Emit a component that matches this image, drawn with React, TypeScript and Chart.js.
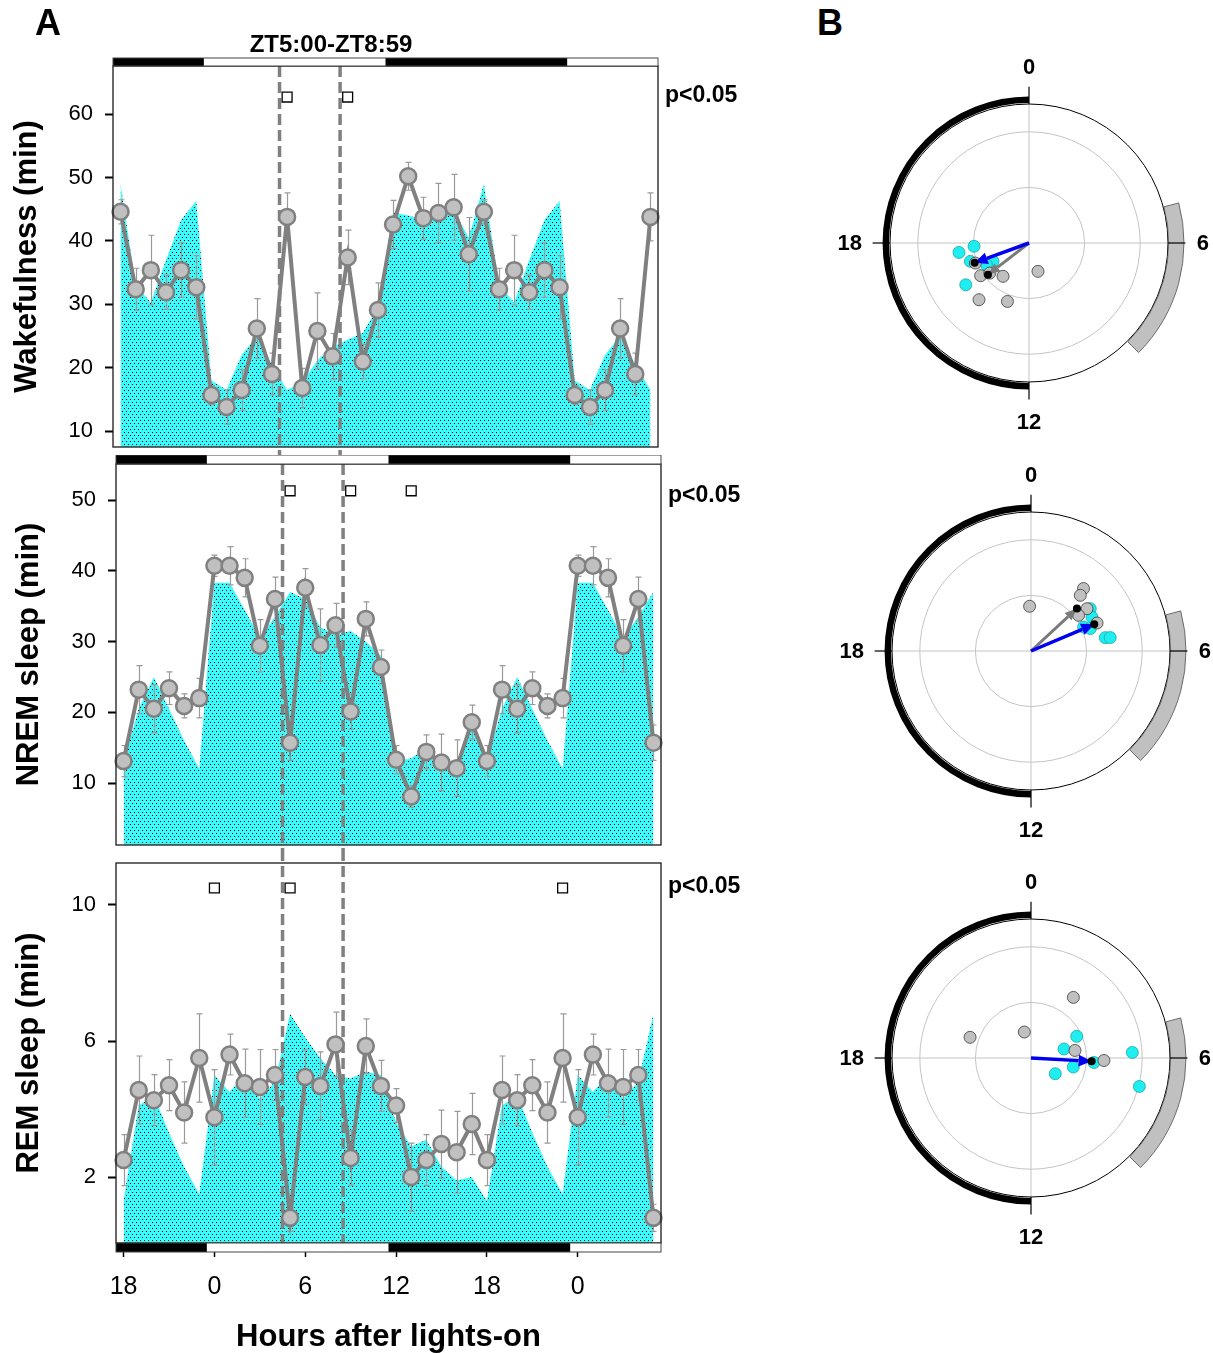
import React, { useEffect, useRef } from 'react';
import { Chart, registerables } from 'chart.js';

Chart.register(...registerables);

const FONT = "'Liberation Sans', Arial, Helvetica, sans-serif";
Chart.defaults.font.family = FONT;
Chart.defaults.color = '#000';

// ---------------- Panel A : shared axis data ----------------
// x positions (hours after lights-on) of the double-plotted hourly bins:
// ZT18..ZT23, ZT0..ZT23, ZT0..ZT5
const PLOT_X = [-6, -5, -4, -3, -2, -1, 0, 1, 2, 3, 4, 5, 6, 7, 8, 9, 10, 11, 12, 13, 14, 15, 16, 17, 18, 19, 20, 21, 22, 23, 24, 25, 26, 27, 28, 29];
const X_RANGE = [-6.5, 29.5];
const X_TICKS = [-6, 0, 6, 12, 18, 24];
const X_TICK_LABELS = ['18', '0', '6', '12', '18', '0'];
const DARK_PHASES = [[-6.5, -0.5], [11.5, 23.5]];
const WINDOW_EDGES = [4.5, 8.5];
const WINDOW_LABEL = 'ZT5:00-ZT8:59';
const P_LABEL = 'p<0.05';

// values per ZT hour 0..23
const WAKE_MEAN = [15.7, 13.8, 16.5, 26.2, 19.0, 43.8, 16.8, 25.8, 21.8, 37.4, 21.0, 29.1, 42.6, 50.2, 43.6, 44.4, 45.3, 37.9, 44.6, 32.4, 35.4, 31.9, 35.4, 32.7];
const WAKE_SEM = [1.5, 2.7, 3.2, 4.7, 3.3, 3.8, 3.1, 6.0, 3.6, 4.3, 2.7, 4.3, 3.8, 2.2, 3.3, 4.7, 5.2, 5.8, 1.9, 3.3, 5.5, 2.7, 4.3, 5.0];
const WAKE_CTRL = [18.0, 16.5, 22.0, 25.0, 20.5, 16.5, 17.7, 21.2, 23.3, 24.4, 25.5, 29.6, 44.5, 44.0, 43.3, 44.0, 44.9, 40.5, 49.0, 33.0, 30.3, 37.0, 43.3, 46.3];
const WAKE_SIG_HOURS = [5, 9];
const WAKE_SIG_LEVEL = 62.7;
const WAKE_Y_TICKS = [10, 20, 30, 40, 50, 60];

const NREM_MEAN = [40.7, 40.7, 39.0, 29.4, 36.0, 15.7, 37.6, 29.5, 32.3, 20.1, 33.2, 26.4, 13.3, 8.1, 14.4, 12.9, 12.1, 18.6, 13.1, 23.2, 20.5, 23.4, 20.9, 22.0];
const NREM_SEM = [1.5, 2.7, 2.7, 3.7, 3.1, 2.5, 2.7, 5.1, 3.1, 2.5, 2.4, 2.4, 2.0, 1.5, 2.4, 4.0, 4.0, 2.4, 2.2, 3.4, 3.4, 2.3, 1.7, 2.8];
const NREM_CTRL = [38.3, 38.3, 34.5, 30.5, 33.5, 37.0, 36.0, 32.0, 31.0, 31.5, 30.0, 28.0, 13.0, 13.5, 15.0, 13.0, 12.0, 19.0, 13.0, 20.5, 25.0, 20.5, 16.0, 12.0];
const NREM_SIG_HOURS = [5, 9, 13];
const NREM_SIG_LEVEL = 51.3;
const NREM_Y_TICKS = [10, 20, 30, 40, 50];

const REM_MEAN = [3.76, 5.6, 4.76, 4.65, 5.0, 0.8, 4.94, 4.68, 5.9, 2.56, 5.85, 4.68, 4.1, 2.0, 2.5, 2.97, 2.73, 3.56, 2.5, 4.56, 4.26, 4.7, 3.9, 5.5];
const REM_SEM = [1.4, 0.6, 1.0, 1.1, 0.75, 0.4, 0.8, 1.0, 0.95, 0.8, 0.8, 0.75, 0.5, 1.0, 0.75, 1.0, 1.2, 0.9, 0.75, 1.0, 0.75, 0.75, 0.9, 1.3];
const REM_CTRL = [5.0, 4.5, 5.0, 4.3, 4.8, 6.8, 6.1, 5.5, 5.0, 4.9, 5.1, 5.0, 3.6, 2.9, 3.1, 2.3, 1.9, 2.0, 1.3, 4.1, 4.4, 3.3, 2.3, 1.5];
const REM_SIG_HOURS = [0, 5, 23];
const REM_SIG_LEVEL = 10.5;
const REM_Y_TICKS = [2, 6, 10];

// ---------------- Panel B : polar (phase in ZT hours, normalised amplitude) ----------------
const WAKE_B_CYAN_PHASE = [17.49, 17.77, 16.84, 15.77, 16.19, 16.2];
const WAKE_B_CYAN_AMP = [0.508, 0.396, 0.442, 0.545, 0.291, 0.344];
const WAKE_B_GREY_PHASE = [16.63, 15.73, 15.5, 14.53, 10.83, 14.76, 13.35];
const WAKE_B_GREY_AMP = [0.412, 0.42, 0.356, 0.304, 0.214, 0.544, 0.448];
const WAKE_B_BLUE_VECTOR = [16.67, 0.416];
const WAKE_B_GREY_VECTOR = [15.49, 0.373];

const NREM_B_CYAN_PHASE = [3.63, 4.06, 4.37, 4.62, 5.32, 5.36];
const NREM_B_CYAN_AMP = [0.524, 0.502, 0.416, 0.456, 0.543, 0.578];
const NREM_B_GREY_PHASE = [23.88, 2.67, 2.77, 3.53, 3.54, 4.47];
const NREM_B_GREY_AMP = [0.322, 0.587, 0.535, 0.505, 0.428, 0.516];
const NREM_B_BLUE_VECTOR = [4.47, 0.494];
const NREM_B_GREY_VECTOR = [3.15, 0.45];

const REM_B_CYAN_PHASE = [4.31, 4.98, 6.8, 8.19, 6.27, 5.79, 6.98];
const REM_B_CYAN_AMP = [0.364, 0.246, 0.311, 0.208, 0.454, 0.73, 0.806];
const REM_B_GREY_PHASE = [2.33, 23.04, 19.25, 5.35, 6.13];
const REM_B_GREY_AMP = [0.532, 0.193, 0.463, 0.321, 0.525];
const REM_B_BLUE_VECTOR = [6.21, 0.437];
const REM_B_GREY_VECTOR = null;

const POLAR_RINGS = [0.4, 0.8];
const POLAR_LABELS = [[0, '0', 1.265], [6, '6', 1.25], [12, '12', 1.29], [18, '18', 1.29]];
const STIM_WINDOW = [5, 9];
const DARK_WINDOW = [12, 24];

// ---------------- helpers ----------------
const wrapHour = (x: number) => ((x % 24) + 24) % 24;

function makePattern(ctx: CanvasRenderingContext2D) {
  const tile = document.createElement('canvas');
  tile.width = 4;
  tile.height = 6;
  const t = tile.getContext('2d')!;
  t.fillStyle = '#3ffafa';
  t.fillRect(0, 0, 4, 6);
  t.fillStyle = '#000';
  t.fillRect(0, 0, 1, 1);
  t.fillRect(2, 3, 1, 1);
  return ctx.createPattern(tile, 'repeat')!;
}

const zeroPadding = (s: any) => {
  s.paddingTop = 0;
  s.paddingBottom = 0;
  s.paddingLeft = 0;
  s.paddingRight = 0;
};

type PanelCfg = {
  top: number; height: number; yWidth: number;
  padding: { left: number; top: number; right: number; bottom: number };
  mean: number[]; sem: number[]; ctrl: number[]; sig: number[]; sigLevel: number;
  yMin: number; yMax: number; yTicks: number[]; yTitle: string; titlePad: number;
  bar: 'top' | 'bottom'; barH: number; pOffset: number; xAxis: boolean;
  dashFromCanvas: boolean; dashToCanvas: boolean; windowLabel: boolean;
};

const WAKE_CFG: PanelCfg = {
  top: 30, height: 425, yWidth: 113, padding: { left: 0, top: 36, right: 112, bottom: 8 },
  mean: WAKE_MEAN, sem: WAKE_SEM, ctrl: WAKE_CTRL, sig: WAKE_SIG_HOURS, sigLevel: WAKE_SIG_LEVEL,
  yMin: 7.5, yMax: 67.6, yTicks: WAKE_Y_TICKS, yTitle: 'Wakefulness (min)', titlePad: 9,
  bar: 'top', barH: 8, pOffset: 30, xAxis: false, dashFromCanvas: false, dashToCanvas: true, windowLabel: true,
};
const NREM_CFG: PanelCfg = {
  top: 455, height: 395, yWidth: 116, padding: { left: 0, top: 9, right: 109, bottom: 5 },
  mean: NREM_MEAN, sem: NREM_SEM, ctrl: NREM_CTRL, sig: NREM_SIG_HOURS, sigLevel: NREM_SIG_LEVEL,
  yMin: 1.24, yMax: 55.09, yTicks: NREM_Y_TICKS, yTitle: 'NREM sleep (min)', titlePad: 11,
  bar: 'top', barH: 9, pOffset: 32, xAxis: false, dashFromCanvas: false, dashToCanvas: true, windowLabel: false,
};
const REM_CFG: PanelCfg = {
  top: 850, height: 506, yWidth: 116, padding: { left: 0, top: 13, right: 109, bottom: 0 },
  mean: REM_MEAN, sem: REM_SEM, ctrl: REM_CTRL, sig: REM_SIG_HOURS, sigLevel: REM_SIG_LEVEL,
  yMin: 0.06, yMax: 11.235, yTicks: REM_Y_TICKS, yTitle: 'REM sleep (min)', titlePad: 11,
  bar: 'bottom', barH: 9, pOffset: 24, xAxis: true, dashFromCanvas: true, dashToCanvas: false, windowLabel: false,
};
const X_AXIS_HEIGHT = 113;

function SleepPanel({ cfg }: { cfg: PanelCfg }) {
  const ref = useRef<HTMLCanvasElement>(null);
  useEffect(() => {
    const canvas = ref.current!;
    const ctx0 = canvas.getContext('2d')!;
    const pattern = makePattern(ctx0);
    const meanPts = PLOT_X.map((x) => ({ x, y: cfg.mean[wrapHour(x)] }));
    const ctrlPts = PLOT_X.map((x) => ({ x, y: cfg.ctrl[wrapHour(x)] }));
    const sigPts = cfg.sig.map((h) => ({ x: h, y: cfg.sigLevel }));

    const deco = {
      id: 'deco',
      afterDatasetDraw(chart: any, args: any) {
        if (args.index !== 2) return;
        const ctx = chart.ctx;
        const a = chart.chartArea;
        const xs = chart.scales.x;
        const ys = chart.scales.y;
        ctx.save();
        ctx.strokeStyle = '#9a9a9a';
        ctx.lineWidth = 1.2;
        PLOT_X.forEach((x) => {
          const h = wrapHour(x);
          const px = Math.round(xs.getPixelForValue(x)) + 0.5;
          const yT = ys.getPixelForValue(cfg.mean[h] + cfg.sem[h]);
          const yB = ys.getPixelForValue(cfg.mean[h] - cfg.sem[h]);
          ctx.beginPath();
          ctx.moveTo(px, yT); ctx.lineTo(px, yB);
          ctx.moveTo(px - 3, yT); ctx.lineTo(px + 3, yT);
          ctx.moveTo(px - 3, yB); ctx.lineTo(px + 3, yB);
          ctx.stroke();
        });
        ctx.strokeStyle = '#808080';
        ctx.lineWidth = 3.5;
        ctx.setLineDash([11, 5]);
        WINDOW_EDGES.forEach((e) => {
          const px = xs.getPixelForValue(e);
          ctx.beginPath();
          ctx.moveTo(px, cfg.dashFromCanvas ? 0 : a.top);
          ctx.lineTo(px, cfg.dashToCanvas ? chart.height : a.bottom + 5);
          ctx.stroke();
        });
        ctx.restore();
      },
      afterDatasetsDraw(chart: any) {
        const ctx = chart.ctx;
        const a = chart.chartArea;
        const xs = chart.scales.x;
        ctx.save();
        ctx.strokeStyle = '#1a1a1a';
        ctx.lineWidth = 1.3;
        ctx.strokeRect(a.left, a.top, a.right - a.left, a.bottom - a.top);
        const barTop = cfg.bar === 'top' ? a.top - cfg.barH : a.bottom;
        ctx.fillStyle = '#fff';
        ctx.fillRect(a.left, barTop, a.right - a.left, cfg.barH);
        ctx.fillStyle = '#000';
        DARK_PHASES.forEach(([s, e]) => {
          const x1 = Math.max(xs.getPixelForValue(s), a.left);
          const x2 = Math.min(xs.getPixelForValue(e), a.right);
          ctx.fillRect(x1, barTop, x2 - x1, cfg.barH);
        });
        ctx.strokeStyle = '#444';
        ctx.lineWidth = 1;
        ctx.strokeRect(a.left, barTop, a.right - a.left, cfg.barH);
        ctx.fillStyle = '#000';
        ctx.font = `bold 23px ${FONT}`;
        ctx.textAlign = 'left';
        ctx.textBaseline = 'middle';
        ctx.fillText(P_LABEL, a.right + 7, a.top + cfg.pOffset);
        if (cfg.windowLabel) {
          ctx.textAlign = 'center';
          ctx.font = `bold 24px ${FONT}`;
          ctx.fillText(WINDOW_LABEL, 331, 15);
        }
        ctx.restore();
      },
    };

    const chart = new Chart(canvas, {
      type: 'line',
      data: {
        datasets: [
          {
            label: 'sig', data: sigPts, showLine: false, pointStyle: 'rect', pointRadius: 7,
            pointBackgroundColor: '#fff', pointBorderColor: '#000', pointBorderWidth: 1.3, clip: false,
          },
          {
            label: 'mean', data: meanPts, borderColor: '#808080', borderWidth: 4, tension: 0,
            pointRadius: 8, pointBackgroundColor: '#c0c0c0', pointBorderColor: '#808080',
            pointBorderWidth: 2.5, fill: false, clip: false,
          },
          {
            label: 'ctrl', data: ctrlPts, borderColor: 'rgba(0,0,0,0)', borderWidth: 0,
            backgroundColor: pattern, fill: 'start', pointRadius: 0, tension: 0,
          },
        ],
      } as any,
      options: {
        responsive: false,
        animation: false,
        devicePixelRatio: 1,
        events: [],
        layout: { padding: cfg.padding, autoPadding: false },
        plugins: { legend: { display: false }, tooltip: { enabled: false }, title: { display: false } },
        scales: {
          x: {
            type: 'linear',
            min: X_RANGE[0],
            max: X_RANGE[1],
            display: cfg.xAxis,
            afterBuildTicks: (s: any) => { s.ticks = X_TICKS.map((v) => ({ value: v })); },
            afterFit: (s: any) => { s.height = cfg.xAxis ? X_AXIS_HEIGHT : 0; zeroPadding(s); },
            ticks: {
              callback: (v: any) => X_TICK_LABELS[X_TICKS.indexOf(Number(v))],
              font: { size: 25 }, color: '#000', maxRotation: 0, autoSkip: false, padding: 15,
            },
            grid: { drawOnChartArea: false, drawTicks: true, tickLength: 14, tickColor: '#000', tickWidth: 1.5 },
            border: { display: false },
            title: { display: true, text: 'Hours after lights-on', font: { size: 31, weight: 'bold' }, color: '#000', padding: 0 },
          },
          y: {
            type: 'linear',
            min: cfg.yMin,
            max: cfg.yMax,
            afterBuildTicks: (s: any) => { s.ticks = cfg.yTicks.map((v) => ({ value: v })); },
            afterFit: (s: any) => { s.width = cfg.yWidth; zeroPadding(s); },
            ticks: { font: { size: 22 }, color: '#000', padding: 12, callback: (v: any) => String(v) },
            grid: { drawOnChartArea: false, drawTicks: true, tickLength: 8, tickColor: '#000', tickWidth: 2 },
            border: { display: false },
            title: { display: true, text: cfg.yTitle, font: { size: 31, weight: 'bold' }, color: '#000', padding: { top: cfg.titlePad, bottom: 0 } },
          },
        },
      } as any,
      plugins: [deco],
    });
    return () => chart.destroy();
  }, [cfg]);
  return (
    <canvas
      ref={ref}
      width={770}
      height={cfg.height}
      style={{ position: 'absolute', left: 0, top: cfg.top, width: 770, height: cfg.height }}
    />
  );
}

type PolarCfg = {
  cx: number; cy: number;
  cyanPhase: number[]; cyanAmp: number[]; greyPhase: number[]; greyAmp: number[];
  blue: number[] | null; grey: number[] | null;
};

const WAKE_POLAR: PolarCfg = {
  cx: 1029, cy: 243, cyanPhase: WAKE_B_CYAN_PHASE, cyanAmp: WAKE_B_CYAN_AMP,
  greyPhase: WAKE_B_GREY_PHASE, greyAmp: WAKE_B_GREY_AMP, blue: WAKE_B_BLUE_VECTOR, grey: WAKE_B_GREY_VECTOR,
};
const NREM_POLAR: PolarCfg = {
  cx: 1031, cy: 651, cyanPhase: NREM_B_CYAN_PHASE, cyanAmp: NREM_B_CYAN_AMP,
  greyPhase: NREM_B_GREY_PHASE, greyAmp: NREM_B_GREY_AMP, blue: NREM_B_BLUE_VECTOR, grey: NREM_B_GREY_VECTOR,
};
const REM_POLAR: PolarCfg = {
  cx: 1031, cy: 1058, cyanPhase: REM_B_CYAN_PHASE, cyanAmp: REM_B_CYAN_AMP,
  greyPhase: REM_B_GREY_PHASE, greyAmp: REM_B_GREY_AMP, blue: REM_B_BLUE_VECTOR, grey: REM_B_GREY_VECTOR,
};

const POLAR_UNIT = 139; // px per unit amplitude (outer circle)
const POLAR_LEFT = 200;
const POLAR_W = 380;
const POLAR_H = 400;

const toXY = (h: number, r: number) => ({ x: r * Math.sin((h * Math.PI) / 12), y: r * Math.cos((h * Math.PI) / 12) });
const canvasAngle = (h: number) => (h * Math.PI) / 12 - Math.PI / 2;

function drawArrow(ctx: CanvasRenderingContext2D, x0: number, y0: number, x1: number, y1: number, color: string, width: number, headLen: number, headHalf: number) {
  const ang = Math.atan2(y1 - y0, x1 - x0);
  const bx = x1 - headLen * Math.cos(ang);
  const by = y1 - headLen * Math.sin(ang);
  ctx.strokeStyle = color;
  ctx.lineWidth = width;
  ctx.lineCap = 'butt';
  ctx.beginPath();
  ctx.moveTo(x0, y0);
  ctx.lineTo(bx, by);
  ctx.stroke();
  ctx.fillStyle = color;
  ctx.beginPath();
  ctx.moveTo(x1, y1);
  ctx.lineTo(bx + headHalf * Math.sin(ang), by - headHalf * Math.cos(ang));
  ctx.lineTo(bx - headHalf * Math.sin(ang), by + headHalf * Math.cos(ang));
  ctx.closePath();
  ctx.fill();
}

function PolarPanel({ cfg }: { cfg: PolarCfg }) {
  const ref = useRef<HTMLCanvasElement>(null);
  useEffect(() => {
    const canvas = ref.current!;
    const deco = {
      id: 'polarDeco',
      beforeDatasetsDraw(chart: any) {
        const ctx = chart.ctx;
        const xs = chart.scales.x;
        const ys = chart.scales.y;
        const cx = xs.getPixelForValue(0);
        const cy = ys.getPixelForValue(0);
        const u = xs.getPixelForValue(1) - cx;
        ctx.save();
        ctx.strokeStyle = '#c4c4c4';
        ctx.lineWidth = 1;
        POLAR_RINGS.forEach((r) => {
          ctx.beginPath();
          ctx.arc(cx, cy, r * u, 0, Math.PI * 2);
          ctx.stroke();
        });
        ctx.beginPath();
        ctx.moveTo(cx - u, cy); ctx.lineTo(cx + u, cy);
        ctx.moveTo(cx, cy - u); ctx.lineTo(cx, cy + u);
        ctx.stroke();
        // outer circle
        ctx.strokeStyle = '#000';
        ctx.lineWidth = 1;
        ctx.beginPath();
        ctx.arc(cx, cy, u, 0, Math.PI * 2);
        ctx.stroke();
        // stimulation window arc
        const a0 = canvasAngle(STIM_WINDOW[0]);
        const a1 = canvasAngle(STIM_WINDOW[1]);
        ctx.beginPath();
        ctx.arc(cx, cy, 1.115 * u, a0, a1, false);
        ctx.arc(cx, cy, 1.005 * u, a1, a0, true);
        ctx.closePath();
        ctx.fillStyle = '#c0c0c0';
        ctx.fill();
        ctx.strokeStyle = '#505050';
        ctx.lineWidth = 0.8;
        ctx.stroke();
        // dark phase arc
        ctx.strokeStyle = '#000';
        ctx.lineWidth = 6.5;
        ctx.lineCap = 'butt';
        ctx.beginPath();
        ctx.arc(cx, cy, 1.03 * u, canvasAngle(DARK_WINDOW[0]), canvasAngle(DARK_WINDOW[1]), false);
        ctx.stroke();
        // ticks
        ctx.lineWidth = 1.2;
        [0, 6, 12, 18].forEach((h) => {
          const a = canvasAngle(h);
          ctx.beginPath();
          ctx.moveTo(cx + Math.cos(a) * u, cy + Math.sin(a) * u);
          ctx.lineTo(cx + Math.cos(a) * 1.125 * u, cy + Math.sin(a) * 1.125 * u);
          ctx.stroke();
        });
        // labels
        ctx.fillStyle = '#000';
        ctx.font = `bold 22px ${FONT}`;
        ctx.textAlign = 'center';
        ctx.textBaseline = 'middle';
        POLAR_LABELS.forEach(([h, txt, r]: any) => {
          const a = canvasAngle(h);
          ctx.fillText(txt, cx + Math.cos(a) * r * u, cy + Math.sin(a) * r * u + 1);
        });
        ctx.restore();
      },
      afterDatasetsDraw(chart: any) {
        const ctx = chart.ctx;
        const xs = chart.scales.x;
        const ys = chart.scales.y;
        const cx = xs.getPixelForValue(0);
        const cy = ys.getPixelForValue(0);
        ctx.save();
        const tips: number[][] = [];
        if (cfg.grey) {
          const p = toXY(cfg.grey[0], cfg.grey[1]);
          const tx = xs.getPixelForValue(p.x);
          const ty = ys.getPixelForValue(p.y);
          drawArrow(ctx, cx, cy, tx, ty, '#7a7a7a', 3, 12, 5);
          tips.push([tx, ty]);
        }
        if (cfg.blue) {
          const p = toXY(cfg.blue[0], cfg.blue[1]);
          const tx = xs.getPixelForValue(p.x);
          const ty = ys.getPixelForValue(p.y);
          drawArrow(ctx, cx, cy, tx, ty, '#0000f0', 3.5, 13, 6);
          tips.push([tx, ty]);
        }
        ctx.fillStyle = '#000';
        tips.forEach(([tx, ty]) => {
          ctx.beginPath();
          ctx.arc(tx, ty, 4, 0, Math.PI * 2);
          ctx.fill();
        });
        ctx.restore();
      },
    };
    const lim = POLAR_LEFT / POLAR_UNIT;
    const chart = new Chart(canvas, {
      type: 'scatter',
      data: {
        datasets: [
          {
            label: 'grey', data: cfg.greyPhase.map((h, i) => toXY(h, cfg.greyAmp[i])),
            pointRadius: 6, pointBackgroundColor: '#c0c0c0', pointBorderColor: '#3a3a3a', pointBorderWidth: 0.8,
          },
          {
            label: 'cyan', data: cfg.cyanPhase.map((h, i) => toXY(h, cfg.cyanAmp[i])),
            pointRadius: 6, pointBackgroundColor: '#1eeef0', pointBorderColor: '#17a8aa', pointBorderWidth: 0.8,
          },
        ],
      } as any,
      options: {
        responsive: false,
        animation: false,
        devicePixelRatio: 1,
        events: [],
        layout: { padding: 0, autoPadding: false },
        plugins: { legend: { display: false }, tooltip: { enabled: false } },
        scales: {
          x: { type: 'linear', display: false, min: -lim, max: (POLAR_W - POLAR_LEFT) / POLAR_UNIT },
          y: { type: 'linear', display: false, min: -(POLAR_H / 2) / POLAR_UNIT, max: (POLAR_H / 2) / POLAR_UNIT },
        },
      } as any,
      plugins: [deco],
    });
    return () => chart.destroy();
  }, [cfg]);
  return (
    <canvas
      ref={ref}
      width={POLAR_W}
      height={POLAR_H}
      style={{ position: 'absolute', left: cfg.cx - POLAR_LEFT, top: cfg.cy - POLAR_H / 2, width: POLAR_W, height: POLAR_H }}
    />
  );
}

export default function App() {
  const letter: React.CSSProperties = {
    position: 'absolute', fontFamily: FONT, fontWeight: 'bold', fontSize: 36, lineHeight: '36px', color: '#000',
  };
  return (
    <div style={{ position: 'absolute', left: 0, top: 0, width: 1213, height: 1353, background: '#fff', overflow: 'hidden' }}>
      <SleepPanel cfg={WAKE_CFG} />
      <SleepPanel cfg={NREM_CFG} />
      <SleepPanel cfg={REM_CFG} />
      <PolarPanel cfg={WAKE_POLAR} />
      <PolarPanel cfg={NREM_POLAR} />
      <PolarPanel cfg={REM_POLAR} />
      <div style={{ ...letter, left: 35, top: 5 }}>A</div>
      <div style={{ ...letter, left: 817, top: 5 }}>B</div>
    </div>
  );
}
